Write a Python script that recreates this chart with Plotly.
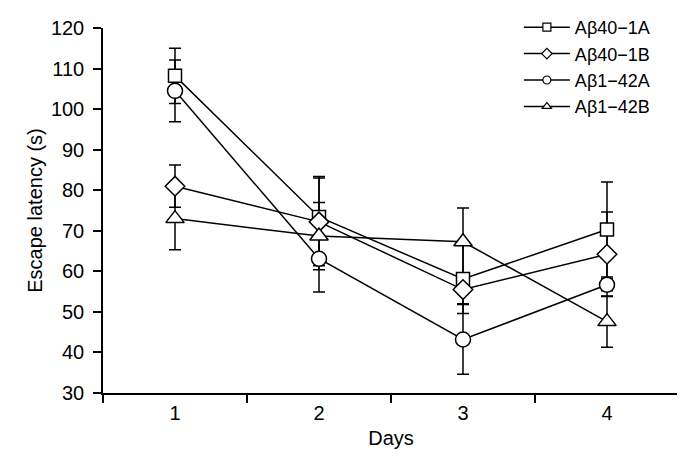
import plotly.graph_objects as go

days = ["1", "2", "3", "4"]
series_names = ["Aβ40\u22121A", "Aβ40\u22121B", "Aβ1\u221242A", "Aβ1\u221242B"]
a40_1a = [108.2, 73.4, 58.1, 70.3]
a40_1a_err = [6.8, 10.0, 8.5, 11.7]
a40_1b = [81.0, 72.2, 55.5, 64.2]
a40_1b_err = [5.2, 10.8, 3.5, 10.4]
a1_42a = [104.5, 63.1, 43.2, 56.7]
a1_42a_err = [7.6, 8.2, 8.6, 1.5]
a1_42b = [73.0, 68.7, 67.3, 47.6]
a1_42b_err = [7.7, 8.3, 8.3, 6.3]
y_ticks = [30, 40, 50, 60, 70, 80, 90, 100, 110, 120]

values = [a40_1a, a40_1b, a1_42a, a1_42b]
errors = [a40_1a_err, a40_1b_err, a1_42a_err, a1_42b_err]
symbols = ["square", "diamond", "circle", "triangle-up"]
sizes = [13, 15, 15, 16]

FONT = "Liberation Sans, Arial, sans-serif"
fig = go.Figure()
# error bars first so that all markers sit on top of them
for name, v, e in zip(series_names, values, errors):
    fig.add_trace(go.Scatter(
        x=days, y=v, mode="markers", showlegend=False, hoverinfo="skip",
        marker=dict(size=1, opacity=0),
        error_y=dict(type="data", array=e, visible=True, color="black", thickness=1.5, width=6),
    ))
for name, v in zip(series_names, values):
    fig.add_trace(go.Scatter(
        x=days, y=v, mode="lines", name=name, showlegend=False,
        line=dict(color="black", width=1.5),
    ))
for name, v, s, sz in zip(series_names, values, symbols, sizes):
    fig.add_trace(go.Scatter(
        x=days, y=v, mode="markers", name=name, showlegend=False,
        marker=dict(symbol=s, size=sz, color="white", line=dict(color="black", width=1.5)),
    ))
for name, s in zip(series_names, symbols):
    fig.add_trace(go.Scatter(
        x=[None], y=[None], mode="lines+markers", name=name,
        line=dict(color="black", width=1.5),
        marker=dict(symbol=s, size=8, color="white", line=dict(color="black", width=1.2)),
    ))

fig.update_layout(
    width=685, height=469,
    margin=dict(l=95, r=14, t=20, b=84, autoexpand=False),
    paper_bgcolor="white", plot_bgcolor="white",
    font=dict(family=FONT, size=20, color="black"),
    showlegend=True,
    legend=dict(x=0.722, y=1.052, xanchor="left", yanchor="top", bgcolor="rgba(0,0,0,0)",
                font=dict(size=18), tracegroupgap=0, itemwidth=46),
    xaxis=dict(type="category", categoryorder="array", categoryarray=days,
               range=[-0.5, 3.5], tickson="boundaries", ticks="outside", ticklen=8,
               tickwidth=1.5, tickcolor="black", showline=True, linecolor="black", linewidth=1.5,
               showgrid=False, zeroline=False, ticklabelstandoff=1,
               title=dict(text="Days", font=dict(size=20), standoff=8)),
    yaxis=dict(range=[30, 120], tickvals=y_ticks, ticks="outside", ticklen=8, tickwidth=1.5,
               tickcolor="black", showline=True, linecolor="black", linewidth=1.5,
               showgrid=False, zeroline=False, ticklabelstandoff=5,
               title=dict(text="Escape latency (s)", font=dict(size=20), standoff=3)),
)
fig.write_html("out.html")
